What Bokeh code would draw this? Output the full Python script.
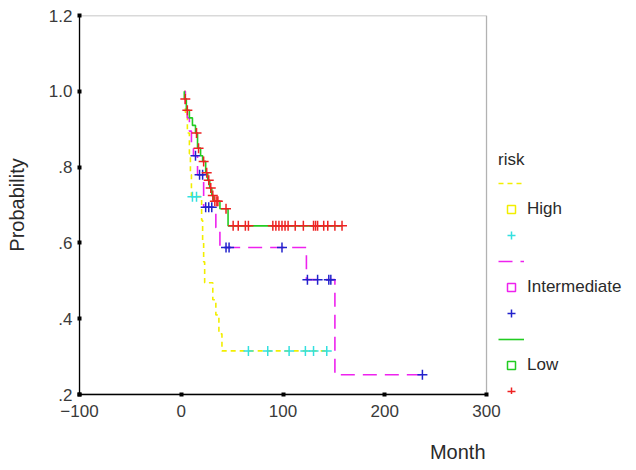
import numpy as np
from bokeh.plotting import figure
from bokeh.models import Range1d, FixedTicker, Legend, LegendItem, BoxAnnotation, Title
from bokeh.embed import file_html
from bokeh.resources import INLINE

# Kaplan-Meier survival by risk group: event times and survival after each event
start_time = 3

high_event_t = [4, 6, 8, 9, 10, 20, 21, 22, 23, 31, 34, 37, 40]
high_event_s = [0.945, 0.89, 0.835, 0.78, 0.722, 0.66, 0.60, 0.55, 0.495, 0.45, 0.41, 0.36, 0.315]
high_cens_t = [11, 15, 66, 85, 106, 122, 130, 143]

inter_event_t = [4, 6, 8, 10, 12, 16, 22, 34, 38, 123, 151]
inter_event_s = [0.965, 0.93, 0.895, 0.86, 0.83, 0.78, 0.694, 0.64, 0.588, 0.503, 0.252]
inter_cens_t = [14, 18, 21, 24, 27, 30, 44, 47, 99, 124, 134, 145, 147, 237]

low_event_t = [3, 5, 8, 11, 14, 16, 19, 21, 24, 26, 28, 30, 32, 38, 46]
low_event_s = [0.98, 0.95, 0.93, 0.91, 0.89, 0.85, 0.83, 0.815, 0.785, 0.765, 0.745, 0.725, 0.71, 0.69, 0.645]
low_cens_t = [4, 6, 15, 17, 22, 25, 27, 29, 31, 33, 35, 36, 44, 51, 56, 63, 66, 90, 93, 96,
              99, 102, 105, 112, 120, 130, 132, 134, 140, 144, 151, 158]

x_ticks = [-100, 0, 100, 200, 300]
y_ticks = [0.2, 0.4, 0.6, 0.8, 1.0, 1.2]
y_tick_labels = [".2", ".4", ".6", ".8", "1.0", "1.2"]

groups = ["High", "Intermediate", "Low"]
line_colors = ["#f2ee00", "#ee22ee", "#22cc22"]
cens_colors = ["#33e0e0", "#2222cc", "#ee2222"]
dashes = ["5 4", "14 8", "solid"]


def survival_at(times, ev_t, ev_s):
    ev_t = np.asarray(ev_t, dtype=float)
    idx = np.searchsorted(ev_t, np.asarray(times, dtype=float), side="right") - 1
    return [1.0 if i < 0 else ev_s[i] for i in idx]


def step_path(ev_t, ev_s, cens_t):
    end = max(max(ev_t), max(cens_t))
    xs = [start_time] + list(ev_t) + [end]
    ys = [1.0] + list(ev_s) + [ev_s[-1]]
    return xs, ys


# the frame runs to the right edge so the key can sit beside the boxed plot area
p = figure(width=636, height=470, output_backend="svg", toolbar_location=None,
           x_range=Range1d(x_ticks[0], 447.4), y_range=Range1d(y_ticks[0], y_ticks[-1]),
           min_border_left=79, min_border_right=0, min_border_top=15, min_border_bottom=76)

p.background_fill_color = "white"
p.border_fill_color = "white"
p.outline_line_color = None
p.grid.visible = False

# box around the plotted region
p.add_layout(BoxAnnotation(left=x_ticks[0], right=x_ticks[-1], bottom=y_ticks[0], top=y_ticks[-1],
                           fill_alpha=0, line_color="black", line_width=1.3))

font = "Liberation Sans"
for ax in (p.xaxis[0], p.yaxis[0]):
    ax.axis_line_color = "black"
    ax.axis_line_width = 1.3
    ax.major_tick_line_color = "black"
    ax.major_tick_line_width = 4
    ax.major_tick_in = 2
    ax.major_tick_out = 2
    ax.minor_tick_line_color = None
    ax.major_label_text_font = font
    ax.major_label_text_font_size = "17px"
    ax.major_label_text_color = "#3a3a3a"
    ax.axis_label_text_font = font
    ax.axis_label_text_font_size = "20px"
    ax.axis_label_text_font_style = "normal"
    ax.axis_label_text_color = "#2a2a2a"

p.xaxis.bounds = (x_ticks[0], x_ticks[-1])
p.xaxis.ticker = FixedTicker(ticks=x_ticks)
p.xaxis.major_label_overrides = {-100: "\u2212100"}
p.xaxis.major_label_standoff = 8
# blank spacer label so the axis title below sits lower
p.xaxis.axis_label = " "
p.xaxis.axis_label_text_font_size = "8px"
p.xaxis.axis_label_standoff = 2

p.yaxis.ticker = FixedTicker(ticks=y_ticks)
p.yaxis.major_label_overrides = {t: s for t, s in zip(y_ticks, y_tick_labels)}
p.yaxis.major_label_standoff = 5
p.yaxis.axis_label = "Probability"
p.yaxis.axis_label_standoff = 18

# x-axis title, right-aligned under the end of the axis
p.add_layout(Title(text="Month", align="right", offset=151,
                   text_font=font, text_font_size="20px", text_font_style="normal",
                   text_color="#2a2a2a"), "below")

data = [
    (high_event_t, high_event_s, high_cens_t),
    (inter_event_t, inter_event_s, inter_cens_t),
    (low_event_t, low_event_s, low_cens_t),
]

items = []
for name, lc, cc, dash, (et, es, ct) in zip(groups, line_colors, cens_colors, dashes, data):
    xs, ys = step_path(et, es, ct)
    line_r = p.step(xs, ys, mode="after", line_color=lc, line_width=1.6, line_dash=dash)
    cens_r = p.scatter(ct, survival_at(ct, et, es), marker="cross", size=10,
                       line_color=cc, line_width=1.5)
    # key-only marker (no plotted point)
    key_r = p.scatter([np.nan], [np.nan], marker="square", size=7, fill_color=None,
                      line_color=lc, line_width=1.5)
    items += [LegendItem(label=" ", renderers=[line_r]),
              LegendItem(label=name, renderers=[key_r]),
              LegendItem(label=" ", renderers=[cens_r])]

legend = Legend(items=items, location=(419, -7), title="risk",
                title_text_font=font, title_text_font_size="17px", title_text_color="#2a2a2a",
                title_text_font_style="normal", title_standoff=3,
                label_text_font=font, label_text_font_size="17px", label_text_color="#2a2a2a",
                glyph_width=26, glyph_height=20, label_height=20, label_standoff=3,
                spacing=6, padding=0, margin=0,
                border_line_color=None, background_fill_alpha=0)
p.add_layout(legend, "center")

open("out.html", "w").write(file_html(p, INLINE))
